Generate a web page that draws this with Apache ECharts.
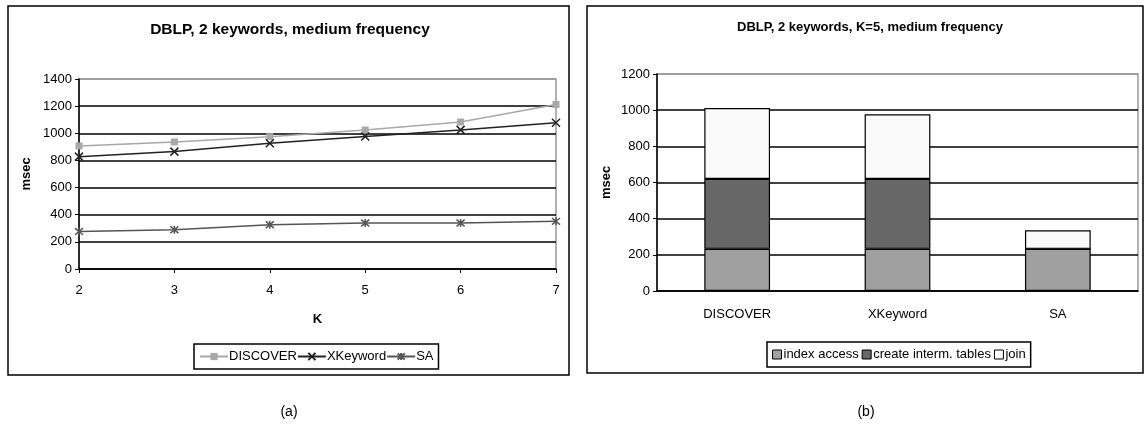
<!DOCTYPE html>
<html>
<head>
<meta charset="utf-8">
<script src="https://cdn.jsdelivr.net/npm/echarts@6/dist/echarts.min.js"></script>
<style>
  html, body { margin: 0; padding: 0; background: #fff; }
  #main { width: 1145px; height: 432px; }
</style>
</head>
<body>
<div id="main"></div>
<script>
// left chart (a)
const kValues = ['2', '3', '4', '5', '6', '7']
const discover = [907, 936, 975, 1024, 1083, 1212]
const xkeyword = [828, 865, 927, 976, 1025, 1078]
const sa = [277, 289, 326, 339, 339, 351]

// right chart (b)
const systems = ['DISCOVER', 'XKeyword', 'SA']
const indexAccess = [233, 233, 233]
const createTables = [387, 387, 0]
const join = [392, 357, 103]

const font = "'Liberation Sans', Arial, sans-serif"
const crossPath = 'path://M0,0L10,10M10,0L0,10'
const starPath = 'path://M0,0L10,10M10,0L0,10M5,-1L5,11'
const plain = function (v) { return String(v) }

let chart = echarts.init(document.getElementById('main'), null, { renderer: 'canvas' })

let option = {
  animation: false,
  textStyle: { fontFamily: font },
  graphic: [
    { type: 'rect', shape: { x: 8, y: 6, width: 561, height: 369 }, style: { fill: 'none', stroke: '#000', lineWidth: 1.5 }, z: 0 },
    { type: 'rect', shape: { x: 587, y: 6, width: 556, height: 367 }, style: { fill: 'none', stroke: '#000', lineWidth: 1.5 }, z: 0 },
    { type: 'text', x: 290, y: 30, style: { text: 'DBLP, 2 keywords, medium frequency', font: 'bold 15.5px ' + font, fill: '#000', textAlign: 'center', textVerticalAlign: 'middle' } },
    { type: 'text', x: 870, y: 27, style: { text: 'DBLP, 2 keywords, K=5, medium frequency', font: 'bold 13px ' + font, fill: '#000', textAlign: 'center', textVerticalAlign: 'middle' } },
    { type: 'text', x: 289, y: 412, style: { text: '(a)', font: '14px ' + font, fill: '#000', textAlign: 'center', textVerticalAlign: 'middle' } },
    { type: 'text', x: 866, y: 412, style: { text: '(b)', font: '14px ' + font, fill: '#000', textAlign: 'center', textVerticalAlign: 'middle' } }
  ],
  legend: [
    {
      left: 194, top: 344,
      padding: [6, 5, 6, 5],
      borderColor: '#000', borderWidth: 1.5,
      itemGap: 0, itemWidth: 28, itemHeight: 9,
      textStyle: { fontSize: 13, color: '#000', padding: [0, 0, 0, -4] },
      data: ['DISCOVER', 'XKeyword', 'SA']
    },
    {
      left: 767, top: 342,
      padding: [6, 5, 6, 5],
      borderColor: '#000', borderWidth: 1.5,
      itemGap: 3, itemWidth: 9, itemHeight: 9,
      icon: 'rect',
      textStyle: { fontSize: 13, color: '#000', padding: [0, 0, 0, -3] },
      itemStyle: { borderColor: '#000', borderWidth: 1 },
      data: ['index access', 'create interm. tables', 'join']
    }
  ],
  grid: [
    { left: 79, right: 589, top: 79, bottom: 163, show: true, borderColor: '#999', borderWidth: 1.5 },
    { left: 657, right: 7, top: 74, bottom: 141, show: true, borderColor: '#999', borderWidth: 1.5 }
  ],
  xAxis: [
    {
      gridIndex: 0, type: 'category', data: kValues, boundaryGap: false,
      name: 'K', nameLocation: 'middle', nameGap: 44,
      nameTextStyle: { fontWeight: 'bold', fontSize: 13, color: '#000' },
      axisLine: { lineStyle: { color: '#000', width: 1.5 } },
      axisTick: { length: 4, lineStyle: { color: '#000' } },
      axisLabel: { fontSize: 13, color: '#000', margin: 15 },
      splitLine: { show: false }
    },
    {
      gridIndex: 1, type: 'category', data: systems, boundaryGap: true,
      axisLine: { lineStyle: { color: '#000', width: 1.5 } },
      axisTick: { length: 5, lineStyle: { color: '#000' } },
      axisLabel: { fontSize: 13, color: '#000', margin: 17 },
      splitLine: { show: false }
    }
  ],
  yAxis: [
    {
      gridIndex: 0, type: 'value', min: 0, max: 1400, interval: 200,
      name: 'msec', nameLocation: 'middle', nameGap: 46, nameRotate: 90,
      nameTextStyle: { fontWeight: 'bold', fontSize: 13, color: '#000' },
      axisLine: { show: true, lineStyle: { color: '#000', width: 1.5 } },
      axisTick: { show: true, length: 4, lineStyle: { color: '#000' } },
      axisLabel: { fontSize: 13, color: '#000', margin: 7, formatter: plain },
      splitLine: { show: true, lineStyle: { color: ['#000', '#000', '#000', '#000', '#000', '#000', '#000', '#999'], width: 1.5 } }
    },
    {
      gridIndex: 1, type: 'value', min: 0, max: 1200, interval: 200,
      name: 'msec', nameLocation: 'middle', nameGap: 44, nameRotate: 90,
      nameTextStyle: { fontWeight: 'bold', fontSize: 13, color: '#000' },
      axisLine: { show: true, lineStyle: { color: '#000', width: 1.5 } },
      axisTick: { show: true, length: 4, lineStyle: { color: '#000' } },
      axisLabel: { fontSize: 13, color: '#000', margin: 7, formatter: plain },
      splitLine: { show: true, lineStyle: { color: ['#000', '#000', '#000', '#000', '#000', '#000', '#999'], width: 1.5 } }
    }
  ],
  series: [
    {
      name: 'DISCOVER', type: 'line', xAxisIndex: 0, yAxisIndex: 0,
      data: discover, symbol: 'rect', symbolSize: 7,
      lineStyle: { color: '#a8a8a8', width: 1.5 },
      itemStyle: { color: '#a8a8a8' }, z: 4
    },
    {
      name: 'XKeyword', type: 'line', xAxisIndex: 0, yAxisIndex: 0,
      data: xkeyword, symbol: crossPath, symbolSize: 8,
      lineStyle: { color: '#222', width: 1.5 },
      itemStyle: { color: 'none', borderColor: '#222', borderWidth: 1.5 }, z: 5
    },
    {
      name: 'SA', type: 'line', xAxisIndex: 0, yAxisIndex: 0,
      data: sa, symbol: starPath, symbolSize: 8,
      lineStyle: { color: '#555', width: 1.5 },
      itemStyle: { color: 'none', borderColor: '#555', borderWidth: 1.5 }, z: 5
    },
    {
      name: 'index access', type: 'bar', stack: 'total', xAxisIndex: 1, yAxisIndex: 1,
      data: indexAccess, barWidth: '41%',
      itemStyle: { color: '#a0a0a0', borderColor: '#000', borderWidth: 1.2 }
    },
    {
      name: 'create interm. tables', type: 'bar', stack: 'total', xAxisIndex: 1, yAxisIndex: 1,
      data: createTables, barWidth: '41%',
      itemStyle: { color: '#676767', borderColor: '#000', borderWidth: 1.2 }
    },
    {
      name: 'join', type: 'bar', stack: 'total', xAxisIndex: 1, yAxisIndex: 1,
      data: join, barWidth: '41%',
      itemStyle: { color: '#fafafa', borderColor: '#000', borderWidth: 1.2 }
    }
  ]
}

chart.setOption(option)
</script>
</body>
</html>
